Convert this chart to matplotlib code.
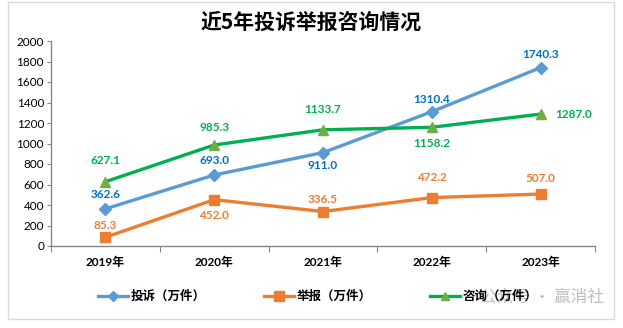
import matplotlib
matplotlib.use("Agg")
import matplotlib.pyplot as plt
from matplotlib.lines import Line2D
from matplotlib.patches import Rectangle

plt.rcParams['font.family'] = ['Lato', 'Noto Sans CJK SC', 'DejaVu Sans']

years = ['2019年', '2020年', '2021年', '2022年', '2023年']
complaints = [362.6, 693.0, 911.0, 1310.4, 1740.3]
reports = [85.3, 452.0, 336.5, 472.2, 507.0]
inquiries = [627.1, 985.3, 1133.7, 1158.2, 1287.0]
series_names = ['投诉（万件）', '举报（万件）', '咨询（万件）']

# label placement per point: (dx, dy) in pixels
complaint_offsets = [(0, 14), (0, 14), (0, -13), (0, 12), (0, 13)]
report_offsets = [(0, 12), (0, -16), (0, 12), (0, 20), (0, 16)]
inquiry_offsets = [(0, 21), (0, 18), (0, 20), (0, -16), (33, 0)]

W, H = 623, 328
fig = plt.figure(figsize=(W / 100, H / 100), dpi=100)
fig.patches.append(Rectangle((8 / W, 1 - 319 / H), 606 / W, 317 / H,
                             transform=fig.transFigure, fill=False,
                             edgecolor='#D9D9D9', linewidth=1.0))

ax = fig.add_axes([51 / W, 1 - 246 / H, 544 / W, 205 / H])
x = list(range(len(years)))

styles = [
    dict(data=complaints, line='#5B9BD5', marker='D', mfc='#5B9BD5', ms=6,
         text='#0070C0', offsets=complaint_offsets),
    dict(data=reports, line='#ED7D31', marker='s', mfc='#ED7D31', ms=7.5,
         text='#ED7D31', offsets=report_offsets),
    dict(data=inquiries, line='#00B050', marker='^', mfc='#70AD47', ms=7,
         text='#00B050', offsets=inquiry_offsets),
]

for name, st in zip(series_names, styles):
    ax.plot(x, st['data'], color=st['line'], linewidth=2.4,
            marker=st['marker'], markersize=st['ms'],
            markerfacecolor=st['mfc'], markeredgecolor=st['mfc'],
            label=name, zorder=3)
    for xi, v, (dx, dy) in zip(x, st['data'], st['offsets']):
        ax.annotate(f'{v:.1f}', xy=(xi, v), xytext=(dx * 0.72, dy * 0.72),
                    textcoords='offset points', ha='center', va='center',
                    fontsize=8.5, fontweight='bold', color=st['text'], zorder=4)

ax.set_xlim(-0.5, len(years) - 0.5)
ax.set_ylim(0, 2000)
ax.set_yticks(range(0, 2001, 200))
ax.tick_params(axis='y', labelsize=8.5, length=3, color='#888888', pad=2)

# category labels centred, ticks on category boundaries
ax.set_xticks([i + 0.5 for i in range(-1, len(years))])
ax.set_xticklabels([])
ax.tick_params(axis='x', length=4, color='#888888', direction='out')
for xi, yr in zip(x, years):
    ax.text(xi, -0.08, yr, transform=ax.get_xaxis_transform(), ha='center',
            va='center', fontsize=8.5, fontweight='bold')

for side in ['top', 'right']:
    ax.spines[side].set_visible(False)
for side in ['left', 'bottom']:
    ax.spines[side].set_color('#888888')
    ax.spines[side].set_linewidth(1.0)

fig.text(0.5, 1 - 22 / H, '近5年投诉举报咨询情况', ha='center', va='center',
         fontsize=15, fontweight='bold', family=['Noto Sans CJK SC'])

# watermark sits behind the legend
fig.text(542 / W, 1 - 297 / H, '公众号 · 赢消社', ha='center', va='center',
         fontsize=12, color='#B8B8B8', alpha=0.9, family=['Noto Sans CJK SC'],
         zorder=1)

# legend drawn by hand in pixel positions
legend_starts = [98, 264, 430]
leg_y = 1 - 296 / H
for x0, name, st in zip(legend_starts, series_names, styles):
    fig.add_artist(Line2D([x0 / W, (x0 + 30) / W], [leg_y, leg_y],
                          transform=fig.transFigure, color=st['line'],
                          linewidth=2.4, zorder=2))
    fig.add_artist(Line2D([(x0 + 15) / W], [leg_y], transform=fig.transFigure,
                          marker=st['marker'], markersize=st['ms'] * 0.9,
                          markerfacecolor=st['mfc'], markeredgecolor=st['mfc'],
                          linestyle='none', zorder=3))
    fig.text((x0 + 33) / W, leg_y, name, ha='left', va='center', fontsize=9,
             fontweight='bold', zorder=3)

fig.savefig('out.png', dpi=100)
